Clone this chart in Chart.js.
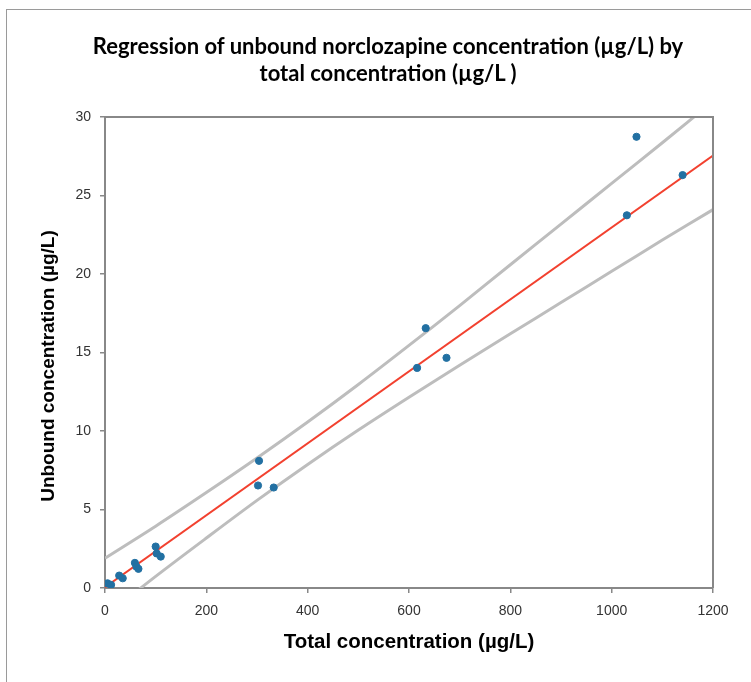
<!DOCTYPE html>
<html>
<head>
<meta charset="utf-8">
<script src="https://cdn.jsdelivr.net/npm/chart.js@4.4.1/dist/chart.umd.min.js"></script>
<style>
  html, body { margin: 0; padding: 0; background: #fff; overflow: hidden; }
  #frame { position: absolute; left: 6px; top: 9px; width: 900px; height: 900px; border: 1px solid #9a9a9a; }
  #title {
    position: absolute; left: 0; top: 32px; width: 776px; text-align: center;
    font-family: Lato, "Open Sans", sans-serif; font-weight: bold; font-size: 22px;
    line-height: 27px; color: #000;
  }
  #ytitle {
    position: absolute; left: 48px; top: 366px; width: 400px; margin-left: -200px; margin-top: -12px;
    height: 24px; line-height: 24px; text-align: center; white-space: nowrap;
    font-family: "Liberation Sans", Arial, sans-serif; font-weight: bold; font-size: 19px; color: #000;
    transform: rotate(-90deg);
  }
  #chart { position: absolute; left: 0; top: 0; }
</style>
</head>
<body>
<div id="frame"></div>
<canvas id="chart" width="751" height="682"></canvas>
<div id="title">Regression of unbound norclozapine concentration (µg/L) by<br>total concentration (µg/L )</div>
<div id="ytitle">Unbound concentration (µg/L)</div>
<script>
// Datos medidos (µg/L)
const totalConc   = [5, 12, 28, 35, 59, 62, 66, 100, 102, 110, 302, 304, 333, 616, 633, 674, 1030, 1049, 1140];
const unboundConc = [0.3, 0.2, 0.79, 0.62, 1.6, 1.36, 1.22, 2.64, 2.2, 2.0, 6.53, 8.1, 6.4, 14.02, 16.55, 14.66, 23.74, 28.74, 26.3];

// Recta de regresión
const fitX = [0, 1200];
const fitY = [0.05, 27.55];

// Bandas de predicción
const bandX     = [0, 100, 200, 300, 400, 500, 600, 700, 800, 900, 1000, 1100, 1200];
const bandUpper = [1.9, 3.94, 6.08, 8.28, 10.57, 12.96, 15.45, 17.99, 20.59, 23.18, 25.77, 28.36, 31.0];
const bandLower = [-1.8, 0.74, 3.18, 5.58, 7.87, 10.06, 12.15, 14.19, 16.19, 18.18, 20.17, 22.16, 24.1];

const xTicks = [0, 200, 400, 600, 800, 1000, 1200];
const yTicks = [0, 5, 10, 15, 20, 25, 30];

const toXY = (xs, ys) => xs.map((x, i) => ({ x: x, y: ys[i] }));

const axisGray = '#888888';
const tickFont = { family: '"Liberation Sans", Arial, sans-serif', size: 14 };
const titleFont = { family: '"Liberation Sans", Arial, sans-serif', size: 20.5, weight: 'bold' };

// Marco superior y derecho del área de trazado
const plotFrame = {
  id: 'plotFrame',
  afterDatasetsDraw(chart) {
    const { ctx, chartArea: a } = chart;
    ctx.save();
    ctx.strokeStyle = axisGray;
    ctx.lineWidth = 2;
    ctx.beginPath();
    ctx.moveTo(a.left, a.top);
    ctx.lineTo(a.right, a.top);
    ctx.lineTo(a.right, a.bottom);
    ctx.stroke();
    ctx.restore();
  }
};

new Chart(document.getElementById('chart'), {
  type: 'scatter',
  data: {
    datasets: [
      {
        label: 'Observed',
        data: toXY(totalConc, unboundConc),
        backgroundColor: '#2270a2',
        borderColor: '#2270a2',
        pointRadius: 3.6,
        showLine: false
      },
      {
        label: 'Fit',
        data: toXY(fitX, fitY),
        showLine: true,
        borderColor: '#f2412f',
        borderWidth: 2,
        pointRadius: 0
      },
      {
        label: 'Upper',
        data: toXY(bandX, bandUpper),
        showLine: true,
        borderColor: '#bdbdbd',
        borderWidth: 3,
        tension: 0.3,
        pointRadius: 0
      },
      {
        label: 'Lower',
        data: toXY(bandX, bandLower),
        showLine: true,
        borderColor: '#bdbdbd',
        borderWidth: 3,
        tension: 0.3,
        pointRadius: 0
      }
    ]
  },
  options: {
    responsive: false,
    animation: false,
    devicePixelRatio: 1,
    layout: { padding: { left: 28, right: 38, top: 117, bottom: 24 } },
    plugins: {
      legend: { display: false },
      tooltip: { enabled: false },
      title: { display: false }
    },
    scales: {
      x: {
        type: 'linear',
        min: 0,
        max: 1200,
        afterFit: s => { s.height = 70; },
        afterBuildTicks: s => { s.ticks = xTicks.map(v => ({ value: v })); },
        grid: { display: true, drawOnChartArea: false, drawTicks: true, tickLength: 5, color: axisGray, lineWidth: 1.5 },
        border: { display: true, color: axisGray, width: 2 },
        ticks: { font: tickFont, color: '#333', padding: 10, maxRotation: 0, callback: v => String(v) },
        title: { display: true, text: 'Total concentration (µg/L)', font: titleFont, color: '#000', padding: { top: 4, bottom: 3 } }
      },
      y: {
        type: 'linear',
        min: 0,
        max: 30,
        afterFit: s => { s.width = 77; },
        afterBuildTicks: s => { s.ticks = yTicks.map(v => ({ value: v })); },
        grid: { display: true, drawOnChartArea: false, drawTicks: true, tickLength: 5, color: axisGray, lineWidth: 1.5 },
        border: { display: true, color: axisGray, width: 2 },
        ticks: { font: tickFont, color: '#333', padding: 9, callback: v => String(v) },
        title: { display: false }
      }
    }
  },
  plugins: [plotFrame]
});
</script>
</body>
</html>
